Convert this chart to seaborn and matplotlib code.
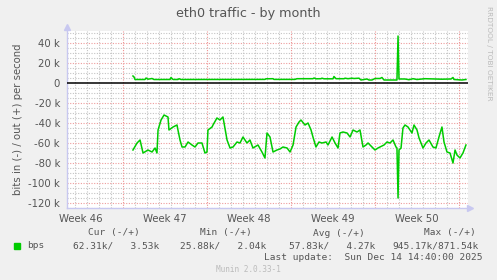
import numpy as np
import pandas as pd
import matplotlib
matplotlib.use("Agg")
import matplotlib.pyplot as plt
import seaborn as sns

# ---- data (days relative to the Sunday-midnight grid line at Nov 16; values in kbit/s)
in_days = [0.83, 1.17, 1.42, 1.67, 2.08, 2.42, 2.67, 2.83, 2.92, 3.17, 3.42, 3.75, 3.83, 4.17,
           4.5, 4.58, 4.75, 4.92, 5.17, 5.42, 5.75, 6.0, 6.25, 6.58, 6.83, 7.0, 7.08, 7.42,
           7.5, 7.83, 8.08, 8.33, 8.42, 8.67, 8.92, 9.17, 9.5, 9.75, 10.0, 10.33, 10.58, 10.83,
           11.25, 11.58, 11.83, 12.0, 12.25, 12.5, 12.83, 13.08, 13.33, 13.67, 13.92, 14.17,
           14.42, 14.67, 14.83, 15.17, 15.42, 15.67, 15.83, 16.08, 16.33, 16.58, 16.92, 17.08,
           17.42, 17.67, 17.92, 18.08, 18.33, 18.67, 18.92, 19.17, 19.5, 19.75, 20.0, 20.25,
           20.42, 20.75, 21.0, 21.25, 21.58, 21.75, 22.0, 22.25, 22.5, 22.75, 22.83, 22.92,
           23.0, 23.17, 23.33, 23.5, 23.75, 24.08, 24.25, 24.5, 24.67, 25.0, 25.25, 25.5,
           25.83, 26.08, 26.33, 26.58, 26.75, 27.0, 27.25, 27.5, 27.67, 27.83, 28.08, 28.33,
           28.58]
in_kbps = [67, 60, 57, 70, 67, 69, 65, 70, 47, 37, 32, 34, 47, 44,
           42, 47, 57, 64, 64, 59, 62, 64, 60, 60, 70, 69, 47, 44,
           42, 35, 37, 34, 40, 57, 65, 64, 59, 60, 54, 60, 57, 65,
           62, 69, 75, 50, 54, 69, 67, 66, 64, 65, 69, 62,
           44, 39, 37, 42, 40, 47, 54, 64, 59, 60, 59, 62,
           54, 60, 65, 50, 49, 50, 54, 47, 49, 47, 64, 62,
           60, 64, 67, 65, 63, 62, 59, 60, 57, 64, 65, 115,
           67, 65, 45, 42, 44, 50, 42, 47, 55, 65, 60, 57,
           64, 65, 54, 44, 59, 69, 70, 80, 67, 72, 75, 70,
           62]

out_days = [0.83, 0.92, 1.0, 1.83, 1.92, 2.08, 2.42, 2.58, 3.92, 4.0, 4.17, 4.58, 4.67, 4.83,
            11.83, 11.92, 12.5, 12.58, 14.33, 14.5, 15.83, 15.92, 16.08, 16.5, 16.58, 16.75,
            17.5, 17.58, 17.75, 18.42, 18.5, 18.75, 19.08, 19.25, 19.67, 19.83, 20.33, 20.5,
            20.75, 21.0, 21.42, 21.58, 21.75, 22.83, 22.92, 23.0, 23.5, 23.83, 24.17, 24.5,
            25.17, 26.58, 27.33, 27.5, 27.58, 28.25, 28.58]
out_kbps = [7, 6, 3.5, 3.5, 5, 3.8, 4.5, 3.5, 3.5, 5.5, 3.5, 3.5, 4.3, 3.5,
            3.6, 4.2, 4.3, 3.6, 3.6, 4.3, 4.3, 5, 4.2, 4.3, 4.8, 4.2,
            4.2, 6.5, 4.3, 4.3, 4.8, 4.3, 4.8, 4.5, 4.8, 3.0, 4.0, 3.0,
            3.0, 4.5, 4.5, 5.5, 3.0, 3.0, 47, 4.0, 4.0, 3.3, 4.3, 3.5,
            4.3, 3.8, 4.0, 5.5, 3.5, 3.0, 3.5]

week_labels = ["Week 46", "Week 47", "Week 48", "Week 49", "Week 50"]
ytick_vals = [40, 20, 0, -20, -40, -60, -80, -100, -120]

legend_headers = ["Cur (-/+)", "Min (-/+)", "Avg (-/+)", "Max (-/+)"]
legend_values = ["62.31k/   3.53k", "25.88k/   2.04k", "57.83k/   4.27k", "945.17k/871.54k"]

# ---- figure
W, H = 497, 280
fig = plt.figure(figsize=(W / 100, H / 100), dpi=100, facecolor="#F0F0F0")
L, R, T, B = 67, 468, 31, 208
ax = fig.add_axes([L / W, 1 - B / H, (R - L) / W, (B - T) / H])
ax.set_facecolor("white")

x0 = (L - 123) / 12.0
x1 = (R - 123) / 12.0
ax.set_xlim(x0, x1)
ax.set_ylim(-125, 52)

grid_ls = (0, (1.0, 1.4))
for d in np.arange(-4, 29, 1):
    if d % 7 == 0:
        continue
    ax.axvline(d, color="#C4C4C4", lw=0.8, ls=grid_ls, zorder=1)
for v in np.arange(-125, 55, 5):
    if v % 20 == 0:
        continue
    ax.axhline(v, color="#C4C4C4", lw=0.8, ls=grid_ls, zorder=1)
for d in np.arange(0, 29, 7):
    ax.axvline(d, color="#EE9090", lw=0.8, ls=grid_ls, zorder=1.5)
for v in ytick_vals:
    if v == 0:
        continue
    ax.axhline(v, color="#EE9C9C", lw=0.8, ls=grid_ls, zorder=1.5)

ax.axhline(0, color="black", lw=1.1, zorder=3)

df_in = pd.DataFrame({"day": in_days, "bps": [-v for v in in_kbps]})
df_out = pd.DataFrame({"day": out_days, "bps": out_kbps})
sns.lineplot(data=df_in, x="day", y="bps", ax=ax, color="#00CC00", lw=1.1, zorder=4,
             estimator=None, sort=False)
sns.lineplot(data=df_out, x="day", y="bps", ax=ax, color="#00CC00", lw=1.1, zorder=4,
             estimator=None, sort=False)

for s in ["top", "right"]:
    ax.spines[s].set_visible(False)
for s in ["left", "bottom"]:
    ax.spines[s].set_color("#C8C8F0")
    ax.spines[s].set_linewidth(1.0)
ax.plot([0], [1.02], marker="^", color="#C8C8F0", ms=4, transform=ax.transAxes, clip_on=False)
ax.plot([1.006], [0], marker=">", color="#C8C8F0", ms=4, transform=ax.transAxes, clip_on=False)

ax.set_yticks(ytick_vals)
ax.set_yticklabels([f"{v} k" if v != 0 else "0" for v in ytick_vals])
ax.set_xticks([-3.5 + 7 * i for i in range(len(week_labels))])
ax.set_xticklabels(week_labels)
ax.tick_params(axis="both", length=0, labelsize=7.3, colors="#555555")
ax.tick_params(axis="y", pad=5)
ax.tick_params(axis="x", pad=4)
ax.set_xlabel("")
ax.set_ylabel("bits in (-) / out (+) per second", fontsize=7.3, color="#555555", labelpad=4)

def ftxt(x, y, s, **kw):
    fig.text(x / W, 1 - y / H, s, **kw)

ftxt(248, 14, "eth0 traffic - by month", ha="center", va="center", fontsize=9.2, color="#555555")
ftxt(489, 6, "RRDTOOL / TOBI OETIKER", ha="center", va="top", rotation=-90,
     fontsize=5.3, color="#BBBBBB")

mono = dict(family="DejaVu Sans Mono", fontsize=6.8, color="#555555", va="center")
header_x = [114, 226, 339, 450]
for hx, h in zip(header_x, legend_headers):
    ftxt(hx, 233, h, ha="center", **mono)
value_x = [73, 180, 289, 392]
for vx, v in zip(value_x, legend_values):
    ftxt(vx, 246, v, ha="left", **mono)
fig.patches.append(plt.Rectangle((14 / W, 1 - 249 / H), 6 / W, 6 / H,
                                 transform=fig.transFigure, color="#00CC00"))
ftxt(27, 246, "bps", ha="left", **mono)
ftxt(482, 258, "Last update:  Sun Dec 14 14:40:00 2025", ha="right", **mono)
ftxt(248, 270, "Munin 2.0.33-1", ha="center", va="center", family="DejaVu Sans Mono",
     fontsize=5.6, color="#BBBBBB")

fig.savefig("out.png", dpi=100, facecolor=fig.get_facecolor())
